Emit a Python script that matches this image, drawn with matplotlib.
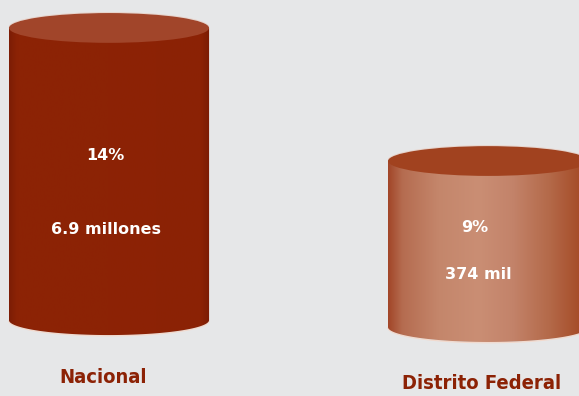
import numpy as np
import matplotlib.pyplot as plt
from matplotlib.patches import Ellipse, PathPatch
from matplotlib.path import Path
from matplotlib.colors import LinearSegmentedColormap

# Population share and absolute figures
regions = ['Nacional', 'Distrito Federal']
share = [14, 9]
share_labels = ['14%', '9%']
count_labels = ['6.9 millones', '374 mil']

BG = '#e6e7e8'
LABEL_COLOR = '#8c2205'
bases = [3.02, 2.76]  # floor each cylinder stands on
half_w = 0.264        # half width of a cylinder (x units)
cap_h = 0.56          # half height of the elliptic caps (y units)

body_cmaps = [
    LinearSegmentedColormap.from_list('nac', [
        (0.0, '#7c1d05'), (0.04, '#8c2306'), (0.5, '#8d2305'),
        (0.96, '#8b2205'), (1.0, '#7a1c04')]),
    LinearSegmentedColormap.from_list('df', [
        (0.0, '#a24628'), (0.07, '#b56c50'), (0.25, '#c4866b'),
        (0.45, '#ca8e74'), (0.62, '#c3836a'), (0.8, '#b46a4a'), (1.0, '#a2441f')]),
]
top_colors = ['#a1452a', '#a1421f']

fig = plt.figure(figsize=(5.79, 3.96), dpi=100, facecolor=BG)
ax = fig.add_axes([0, 0, 1, 1])
ax.set_facecolor(BG)
ax.set_xlim(-0.2876, 1.240)
ax.set_ylim(0.17, 15.05)
ax.axis('off')


def cylinder(ax, x, top, base, cmap, top_color):
    # body: rectangle plus the lower half of the bottom ellipse
    t = np.linspace(np.pi, 2 * np.pi, 60)
    bottom_arc = np.column_stack([x + half_w * np.cos(t), base + cap_h * np.sin(t)])
    verts = np.vstack([[[x - half_w, top]], bottom_arc, [[x + half_w, top]], [[x - half_w, top]]])
    codes = [Path.MOVETO] + [Path.LINETO] * (len(verts) - 2) + [Path.CLOSEPOLY]
    clip = PathPatch(Path(verts, codes), facecolor='none', edgecolor='none')
    ax.add_patch(clip)
    grad = np.linspace(0, 1, 256).reshape(1, -1)
    im = ax.imshow(grad, cmap=cmap, aspect='auto', interpolation='bicubic',
                   extent=[x - half_w, x + half_w, base - cap_h - 0.05, top], zorder=2)
    im.set_clip_path(clip)
    # faint light rim along the bottom
    ax.plot(bottom_arc[:, 0], bottom_arc[:, 1] - 0.03, color='#f3d9cc', lw=0.8, zorder=1.9)
    # top cap
    ax.add_patch(Ellipse((x, top), 2 * half_w, 2 * cap_h, facecolor=top_color,
                         edgecolor='none', zorder=3))
    tt = np.linspace(0.1, np.pi - 0.1, 60)
    ax.plot(x + half_w * np.cos(tt), top + cap_h * np.sin(tt) + 0.02,
            color='#e9c9bb', lw=0.6, alpha=0.7, zorder=2.9)


for i, (name, v) in enumerate(zip(regions, share)):
    cylinder(ax, i, v, bases[i], body_cmaps[i], top_colors[i])

# values written on the cylinders
text_y = [(9.22, 6.41), (6.52, 4.72)]
x_off = [-0.01, -0.035]
for i in range(len(regions)):
    ax.text(i + x_off[i], text_y[i][0], share_labels[i], color='white', ha='center',
            va='center', fontsize=11.5, fontweight='bold', family='DejaVu Sans', zorder=5)
    ax.text(i + x_off[i] * 0.7, text_y[i][1], count_labels[i], color='white', ha='center',
            va='center', fontsize=11.5, fontweight='bold', family='DejaVu Sans', zorder=5)

# region names under the cylinders
name_pos = [(-0.016, 0.88), (-0.016, 0.65)]
for i, name in enumerate(regions):
    ax.text(i + name_pos[i][0], name_pos[i][1], name, color=LABEL_COLOR, ha='center',
            va='center', fontsize=14.5, fontweight='bold', fontstretch='condensed',
            family='DejaVu Sans', zorder=5)

fig.savefig('out.png', dpi=100, facecolor=BG)
